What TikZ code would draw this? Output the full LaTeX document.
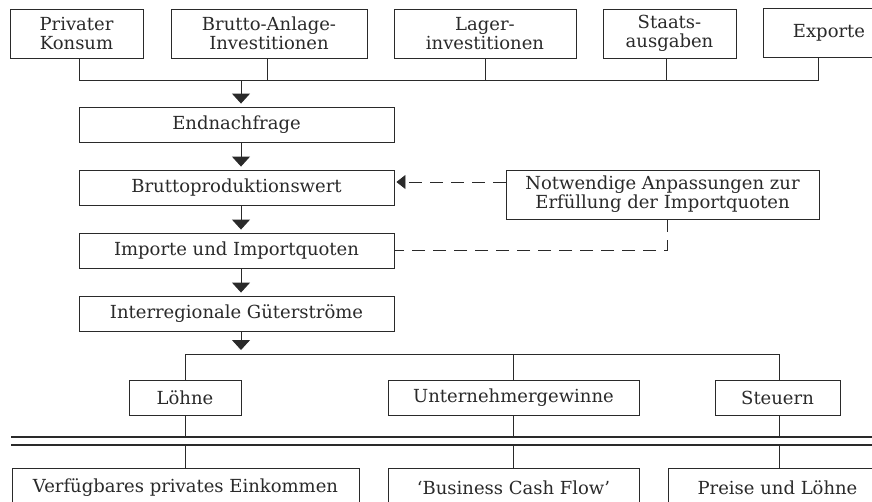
\documentclass[tikz,border=0pt]{standalone}
\usepackage{fontspec}
\setmainfont{DejaVu Serif}
\usetikzlibrary{arrows.meta}
\definecolor{ink}{HTML}{2A2A2A}
\tikzset{
  box/.style={draw=ink, line width=0.9pt, inner sep=0pt, align=center, text=ink,
    font=\fontsize{18}{19}\selectfont, minimum height=35pt},
  tall/.style={minimum height=49pt},
  conn/.style={draw=ink, line width=0.8pt},
  arr/.style={conn, line width=1pt, -{Triangle[width=18pt,length=10pt]}, shorten >=3pt},
  dsh/.style={conn, dash pattern=on 13pt off 8pt},
}
\begin{document}
\begin{tikzpicture}[x=1pt,y=-1pt]
\useasboundingbox (0,0) rectangle (872,501);
\clip (0,0) rectangle (872,501);
\fill[white] (0,0) rectangle (872,501);
% top row
\node[box,tall,minimum width=133pt] (pk) at (76.5,33.5) {Privater\\Konsum};
\node[box,tall,minimum width=196pt] (ba) at (269,33.5) {Brutto-Anlage-\\Investitionen};
\node[box,tall,minimum width=182pt] (li) at (485,33.5) {Lager-\\investitionen};
\node[box,tall,minimum width=133pt] (sa) at (669.5,33.5) {Staats-\\ausgaben};
\node[box,tall,minimum width=132pt] (ex) at (829,33) {Exporte};
\coordinate (j1) at (241,80);
\draw[conn] ([xshift=2.5pt]pk.south) |- ([xshift=-11pt]ex.south |- j1) -- ([xshift=-11pt]ex.south);
\draw[conn] ([xshift=-2pt]ba.south) -- ([xshift=-2pt]ba.south |- j1);
\draw[conn] (li.south) -- (li.south |- j1);
\draw[conn] ([xshift=-3.5pt]sa.south) -- ([xshift=-3.5pt]sa.south |- j1);
% main column
\node[box,minimum width=315pt] (en) at (236.5,124.5) {Endnachfrage};
\node[box,minimum width=315pt] (bp) at (236.5,187.5) {Bruttoproduktionswert};
\node[box,minimum width=315pt] (im) at (236.5,250.5) {Importe und Importquoten};
\node[box,minimum width=315pt] (ig) at (236.5,313.5) {Interregionale Güterströme};
\draw[arr] (j1) -- (j1 |- en.north);
\draw[arr] (j1 |- en.south) -- (j1 |- bp.north);
\draw[arr] (j1 |- bp.south) -- (j1 |- im.north);
\draw[arr] (j1 |- im.south) -- (j1 |- ig.north);
\coordinate (j2) at (241,354);
\draw[arr, shorten >=4pt] (j1 |- ig.south) -- (j2);
% side box
\node[box,tall,minimum width=313pt] (nw) at (662.5,194.5) {Notwendige Anpassungen zur\\Erfüllung der Importquoten};
\draw[dsh, -{Triangle[width=14pt,length=9pt]}] ([yshift=12.5pt]nw.west) -- ([yshift=5.5pt,xshift=2pt]bp.east);
\draw[dsh] ([xshift=4.5pt]nw.south) |- (im.east);
% income split
\node[box,minimum width=112pt] (lo) at (185,397.5) {Löhne};
\node[box,minimum width=251pt] (ug) at (513.5,397.5) {Unternehmergewinne};
\node[box,minimum width=125pt] (st) at (777.5,397.5) {Steuern};
\draw[conn] (lo.north) |- ([xshift=1.5pt]st.north |- j2) -- ([xshift=1.5pt]st.north);
\draw[conn] (ug.north) -- (ug.north |- j2);
% double line
\coordinate (d1) at (11,437);
\coordinate (d2) at (11,445);
\draw[conn, line width=1.1pt] (d1) -- (880,437);
\draw[conn, line width=1.1pt] (d2) -- (880,445);
% bottom row
\node[box,minimum width=347pt,minimum height=39pt] (vp) at (185.5,487.5) {Verfügbares privates Einkommen};
\node[box,minimum width=251pt,minimum height=39pt] (bc) at (513.5,487.5) {‘Business Cash Flow’};
\node[box,minimum width=219pt,minimum height=39pt] (pl) at (777.5,487.5) {Preise und Löhne};
\draw[conn] (lo.south) -- (lo.south |- d1);
\draw[conn] (ug.south) -- (ug.south |- d1);
\draw[conn] ([xshift=1.5pt]st.south) -- ([xshift=1.5pt]st.south |- d1);
\draw[conn] (lo.south |- d2) -- (lo.south |- vp.north);
\draw[conn] (ug.south |- d2) -- (ug.south |- bc.north);
\draw[conn] ([xshift=1.5pt]st.south |- d2) -- ([xshift=1.5pt]st.south |- pl.north);
\end{tikzpicture}
\end{document}
